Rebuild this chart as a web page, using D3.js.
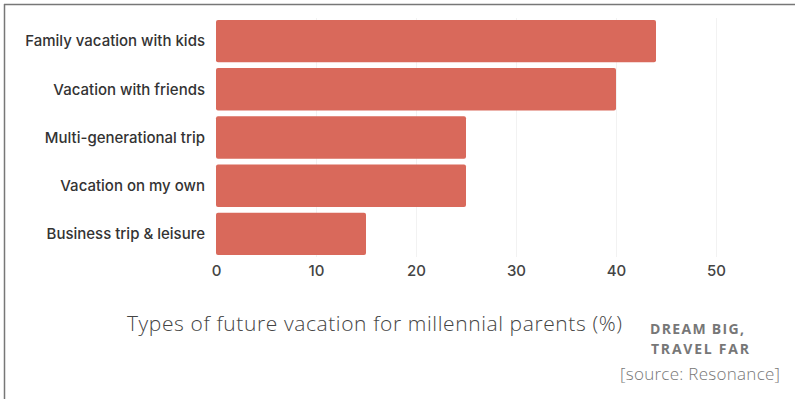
<!DOCTYPE html>
<html>
<head>
<meta charset="utf-8">
<script src="https://cdn.jsdelivr.net/npm/d3@7"></script>
<style>
  body { margin: 0; background: #fff; }
  svg { display: block; }
</style>
</head>
<body>
<div id="chart"></div>
<script>
// données
var categories = ["Family vacation with kids", "Vacation with friends", "Multi-generational trip", "Vacation on my own", "Business trip & leisure"];
var values = [44, 40, 25, 25, 15];
var tickValues = [0, 10, 20, 30, 40, 50];

var width = 795, height = 399;
var margin = { left: 216, right: 79, top: 18, bottom: 143 };

var svg = d3.select("#chart").append("svg")
    .attr("width", width)
    .attr("height", height);

// cadre (haut et gauche seulement)
svg.append("line").attr("x1", 4).attr("x2", width).attr("y1", 4.5).attr("y2", 4.5)
    .attr("stroke", "#777").attr("stroke-width", 1.5);
svg.append("line").attr("x1", 4.5).attr("x2", 4.5).attr("y1", 4).attr("y2", height)
    .attr("stroke", "#777").attr("stroke-width", 1.5);

var x = d3.scaleLinear().domain([0, 50]).range([margin.left, 716]);
var y = d3.scaleBand().domain(categories).range([margin.top, 257]).paddingInner(0.12).paddingOuter(0.04);

// grille
svg.append("g").selectAll("line")
    .data(tickValues.slice(1))
    .enter().append("line")
    .attr("x1", function(d) { return x(d) + 0.5; })
    .attr("x2", function(d) { return x(d) + 0.5; })
    .attr("y1", margin.top)
    .attr("y2", 257)
    .attr("stroke", "#f2f2f2");

// barres
svg.append("g").selectAll("rect")
    .data(values)
    .enter().append("rect")
    .attr("x", x(0))
    .attr("y", function(d, i) { return y(categories[i]); })
    .attr("width", function(d) { return x(d) - x(0); })
    .attr("height", y.bandwidth())
    .attr("rx", 2)
    .attr("fill", "#d9695b");

// étiquettes
svg.append("g").selectAll("text")
    .data(categories)
    .enter().append("text")
    .attr("x", 205)
    .attr("y", function(d) { return y(d) + y.bandwidth() / 2; })
    .attr("dy", "0.35em")
    .attr("text-anchor", "end")
    .style("font-family", "Inter, 'Noto Sans', sans-serif")
    .style("font-size", "15px")
    .style("font-weight", 500)
    .style("fill", "#333")
    .text(function(d) { return d; });

// axe x
var xAxis = svg.append("g")
    .attr("transform", "translate(0,271)")
    .call(d3.axisBottom(x).tickValues(tickValues).tickSize(0).tickPadding(0));
xAxis.select(".domain").remove();
xAxis.selectAll("text")
    .attr("dy", "0.35em")
    .style("font-family", "Inter, 'Noto Sans', sans-serif")
    .style("font-size", "15px")
    .style("font-weight", 500)
    .style("fill", "#444");

// titre
svg.append("text")
    .attr("x", 127)
    .attr("y", 331)
    .attr("textLength", 495)
    .style("font-family", "'Open Sans', sans-serif")
    .style("font-weight", 300)
    .style("font-size", "21px")
    .style("fill", "#444")
    .text("Types of future vacation for millennial parents (%)");

svg.append("text")
    .attr("x", 650)
    .attr("y", 334)
    .attr("textLength", 94)
    .style("font-family", "'Open Sans', sans-serif")
    .style("font-weight", 700)
    .style("font-size", "14px")
    .style("fill", "#777")
    .text("DREAM BIG,");
svg.append("text")
    .attr("x", 651)
    .attr("y", 354)
    .attr("textLength", 98)
    .style("font-family", "'Open Sans', sans-serif")
    .style("font-weight", 700)
    .style("font-size", "14px")
    .style("fill", "#777")
    .text("TRAVEL FAR");

svg.append("text")
    .attr("x", 620)
    .attr("y", 380)
    .attr("textLength", 160)
    .style("font-family", "'Open Sans', sans-serif")
    .style("font-weight", 300)
    .style("font-size", "17px")
    .style("fill", "#777")
    .text("[source: Resonance]");
</script>
</body>
</html>
